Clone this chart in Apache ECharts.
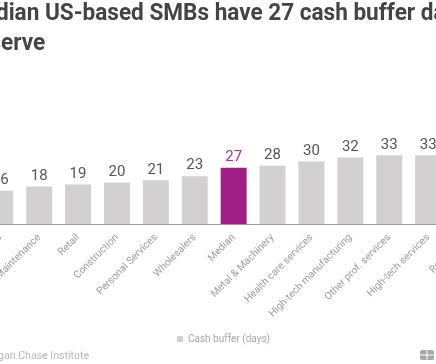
<!DOCTYPE html>
<html><head><meta charset="utf-8">
<style>html,body{margin:0;padding:0;background:#fff}#c{width:436px;height:364px}</style>
<script src="https://cdn.jsdelivr.net/npm/echarts@6/dist/echarts.min.js"></script>
</head><body><div id="c"></div>
<script>
const categories = ["Restaurants","Repair & Maintenance","Retail","Construction","Personal Services","Wholesalers","Median","Metal & Machinery","Health care services","High-tech manufacturing","Other prof. services","High-tech services","Real estate"];
const cashBuffer = [16,18,19,20,21,23,27,28,30,32,33,33,34];
const seriesName = "Cash buffer (days)";
const highlight = "Median";
const titleLines = ["Median US-based SMBs have 27 cash buffer days","in reserve"];
const source = "Source: JPMorgan Chase Institute";
const chart = echarts.init(document.getElementById('c'),null,{renderer:'canvas'});
const F = 'Roboto, sans-serif';
chart.setOption({
  animation:false,
  backgroundColor:'#fff',
  grid:{left:-19.2,top:140.8,width:505.7,height:83.2,containLabel:false,outerBoundsMode:'none'},
  xAxis:{type:'category',data:categories,
    axisLine:{lineStyle:{color:'#9a9a9a',width:1}},axisTick:{show:false},
    axisLabel:{interval:0,rotate:45,color:'#9c9c9c',fontFamily:F,fontSize:10.2,margin:12}},
  yAxis:{type:'value',min:0,max:40,show:false},
  legend:{data:[seriesName],left:172,top:329,itemWidth:6,itemHeight:6,icon:'rect',itemGap:4,
    textStyle:{color:'#a8a8a8',fontFamily:F,fontSize:10}},
  series:[{type:'bar',name:seriesName,barWidth:26,clip:false,
    itemStyle:{color:'#d2d0d0'},
    label:{show:true,position:'top',distance:3,color:'#555',fontFamily:F,fontSize:15},
    data:cashBuffer.map((v,i)=>categories[i]===highlight
      ?{value:v,itemStyle:{color:'#a01f87'},label:{color:'#a8308f'}}:v)}],
  graphic:[
    {type:'text',x:-36,y:2,scaleX:0.94,style:{text:titleLines[0],fill:'#444',fontFamily:F,fontWeight:'bold',fontSize:24,textVerticalAlign:'top'}},
    {type:'text',x:-55,y:32,scaleX:0.94,style:{text:titleLines[1],fill:'#444',fontFamily:F,fontWeight:'bold',fontSize:24,textVerticalAlign:'top'}},
    {type:'text',x:89,y:351,style:{text:source,fill:'#b8b8b8',fontFamily:F,fontSize:10.6,textAlign:'right'}},
    {type:'rect',shape:{x:420,y:350,width:14,height:10,r:2},style:{fill:'#a8a8a8'}},
    {type:'rect',shape:{x:426.5,y:350,width:1,height:10},style:{fill:'#fff'}},
    {type:'rect',shape:{x:420,y:354.5,width:14,height:1},style:{fill:'#fff'}}
  ]
});
</script></body></html>
